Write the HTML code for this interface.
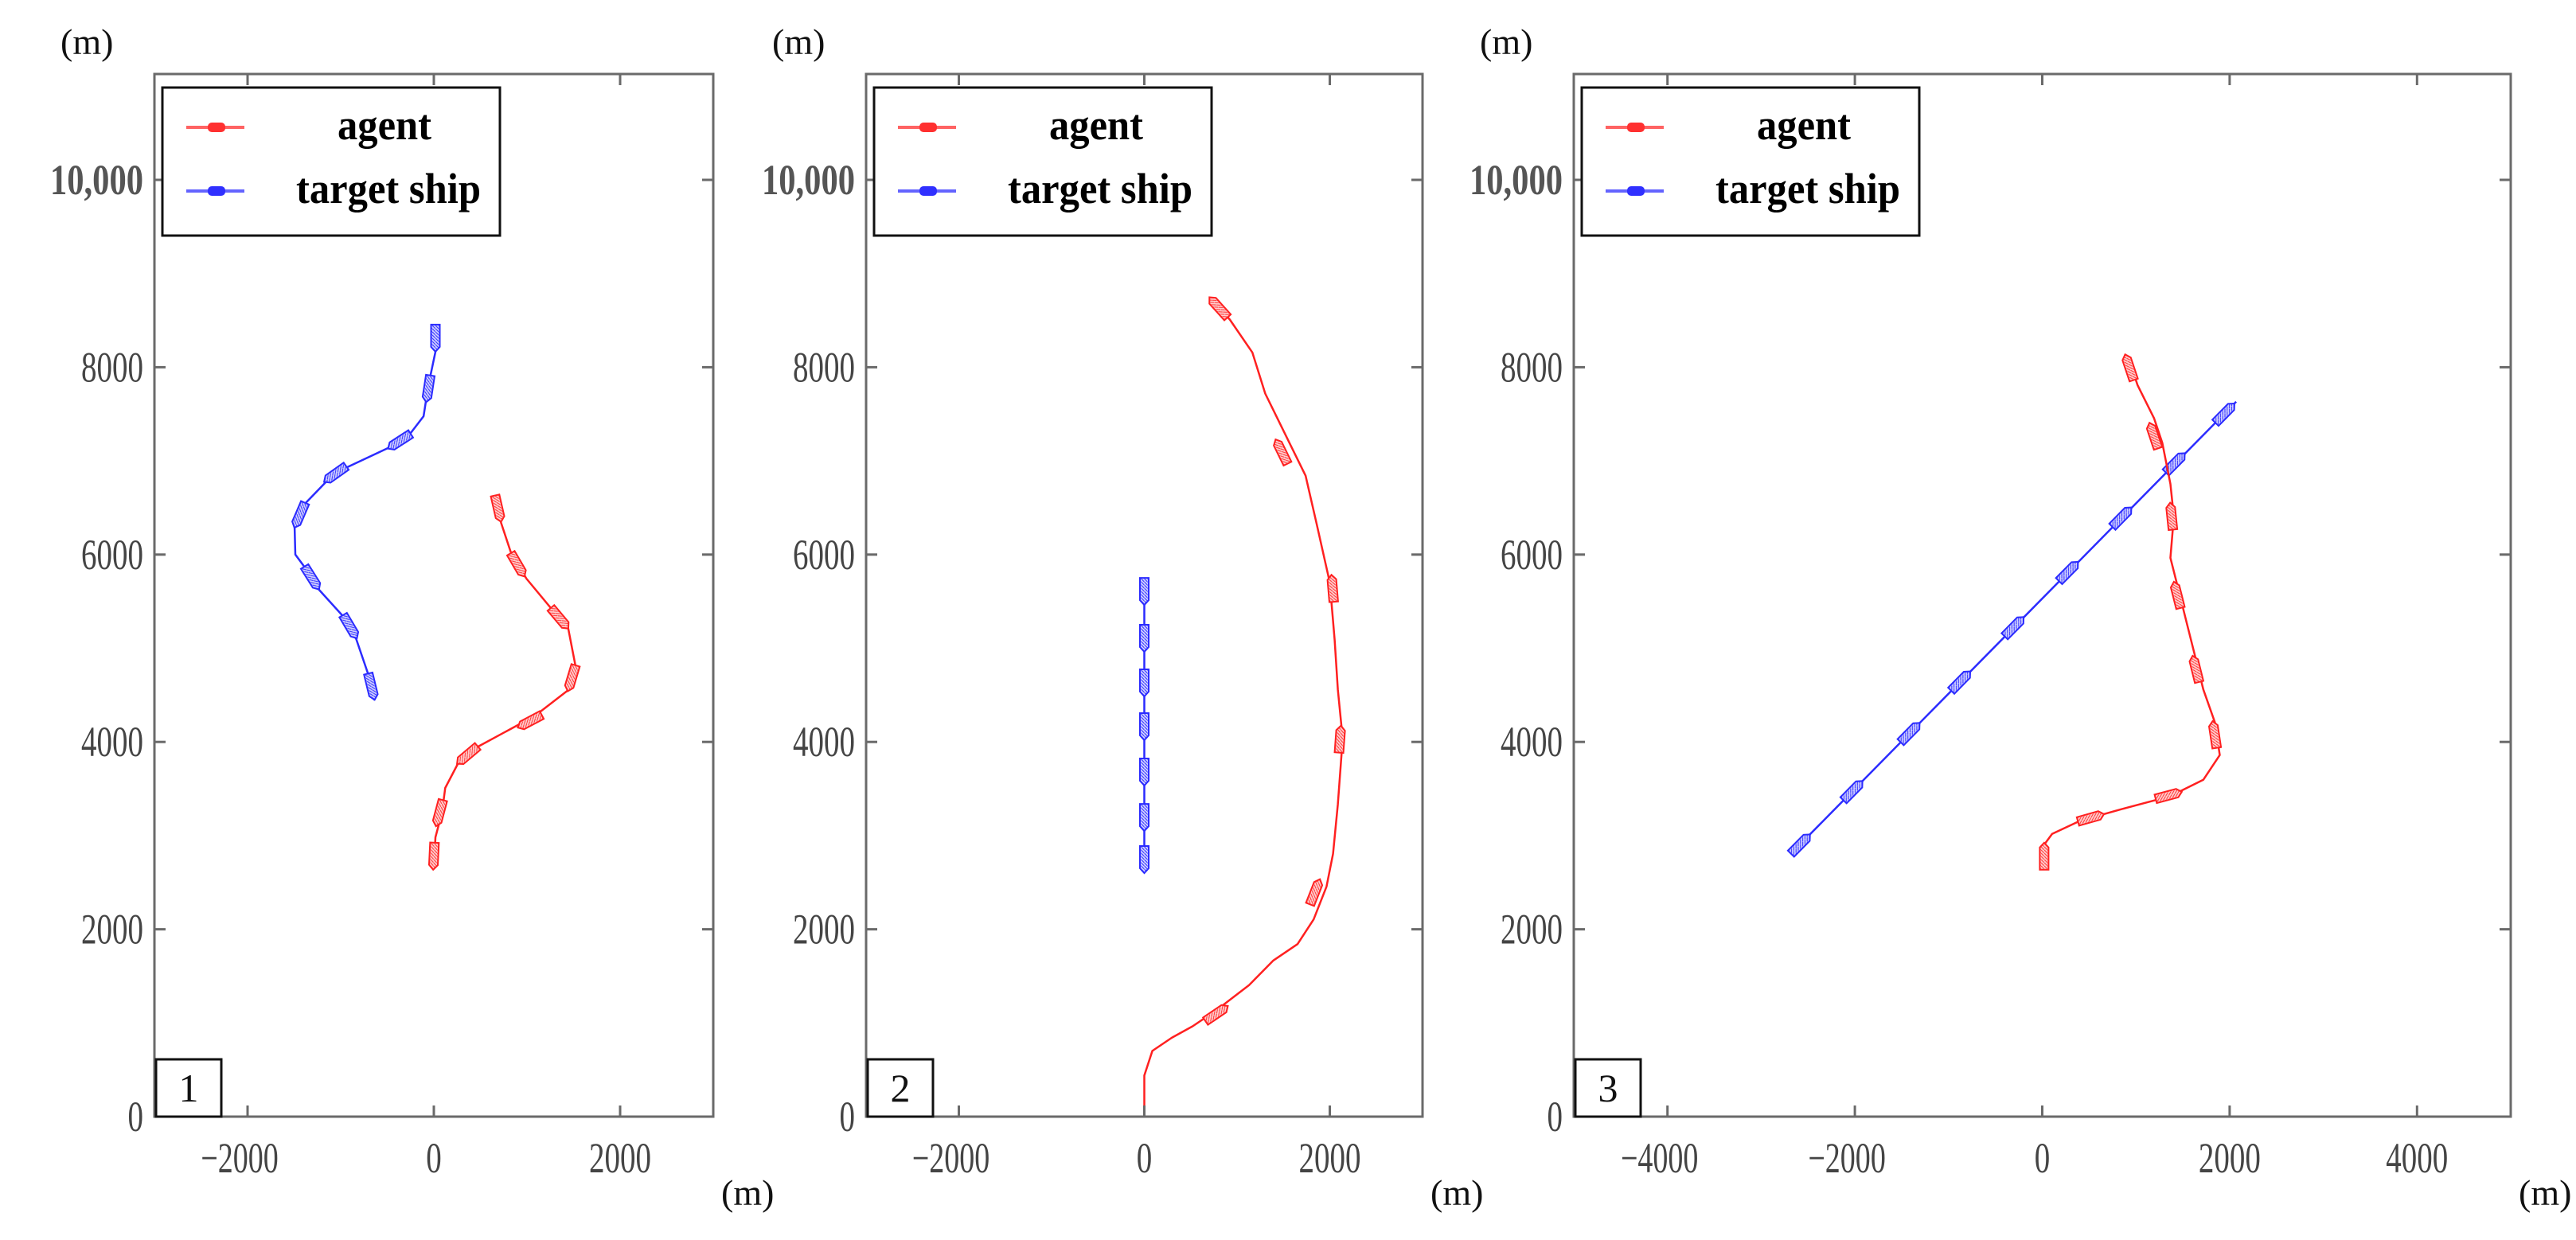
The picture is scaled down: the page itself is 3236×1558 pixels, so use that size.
<!DOCTYPE html>
<html><head><meta charset="utf-8"><style>
html,body{margin:0;padding:0;background:#fff;}
svg{display:block;}
text{font-family:"Liberation Serif",serif;}
</style></head><body>
<svg id="chart" width="3236" height="1558" viewBox="0 0 3236 1558" xmlns="http://www.w3.org/2000/svg">
<defs>
<pattern id="hatchR" patternUnits="userSpaceOnUse" width="4" height="4"><rect width="4" height="4" fill="#ffd0d0"/><path d="M0 4L4 0" stroke="#ff3030" stroke-width="1"/></pattern>
<pattern id="hatchB" patternUnits="userSpaceOnUse" width="4" height="4"><rect width="4" height="4" fill="#d0d0ff"/><path d="M0 4L4 0" stroke="#3030ff" stroke-width="1"/></pattern>
</defs>
</svg>
<script>
// ---- data (metres) ----
const yTicks = [0, 2000, 4000, 6000, 8000, 10000];
const yTickLabels = ["0", "2000", "4000", "6000", "8000", "10,000"];
const xTicks1 = [-2000, 0, 2000];
const xTickLabels1 = ["\u22122000", "0", "2000"];
const xTicks3 = [-4000, -2000, 0, 2000, 4000];
const xTickLabels3 = ["\u22124000", "\u22122000", "0", "2000", "4000"];
const panelLabels = ["1", "2", "3"];

const p1TargetX = [17, 17, -60, -110, -255, -493, -985, -1130, -1385, -1495, -1487, -1385, -1240, -985, -833, -705, -637];
const p1TargetY = [8462, 8165, 7800, 7477, 7290, 7137, 6907, 6805, 6542, 6287, 6000, 5862, 5633, 5353, 5098, 4724, 4444];
const p1AgentX = [654, 722, 824, 994, 1249, 1444, 1521, 1444, 1079, 957, 470, 261, 122, 87, 17, 0];
const p1AgentY = [6636, 6338, 6032, 5743, 5438, 5208, 4809, 4554, 4274, 4210, 3947, 3772, 3509, 3245, 2982, 2640];
const p1TargetShipX = [17, -60, -370, -1060, -1440, -1310, -900, -670];
const p1TargetShipY = [8310, 7770, 7210, 6860, 6420, 5750, 5230, 4590];
const p1AgentShipX = [690, 900, 1350, 1480, 1030, 360, 60, 0];
const p1AgentShipY = [6490, 5890, 5320, 4680, 4220, 3860, 3240, 2780];

const p2TargetX = [0, 0];
const p2TargetY = [5750, 2640];
const p2AgentX = [0, 0, 87, 296, 522, 783, 1130, 1391, 1652, 1826, 1965, 2035, 2087, 2139, 2087, 2052, 2000, 1861, 1739, 1565, 1304, 1165, 922, 730];
const p2AgentY = [0, 439, 702, 842, 965, 1140, 1404, 1667, 1842, 2105, 2456, 2807, 3333, 4035, 4561, 5088, 5702, 6316, 6842, 7193, 7719, 8158, 8509, 8719];
const p2TargetShipX = [0, 0, 0, 0, 0, 0, 0];
const p2TargetShipY = [5607, 5106, 4630, 4163, 3679, 3194, 2744];
const p2AgentShipX = [780, 1840, 2110, 2030, 1480, 800];
const p2AgentShipY = [1100, 2400, 4030, 5640, 7100, 8640];

const p3TargetX = [-2680, 2070];
const p3TargetY = [2810, 7632];
const p3AgentX = [18, 18, 105, 404, 842, 1368, 1719, 1895, 1842, 1719, 1632, 1544, 1456, 1368, 1404, 1368, 1281, 1193, 1018, 930];
const p3AgentY = [2640, 2900, 3018, 3158, 3281, 3421, 3596, 3860, 4211, 4561, 4912, 5263, 5614, 5965, 6404, 6754, 7193, 7456, 7807, 8070];
const p3TargetShipX = [-2580, -2020, -1410, -870, -300, 280, 850, 1420, 1950];
const p3TargetShipY = [2910, 3480, 4100, 4650, 5230, 5820, 6400, 6980, 7510];
const p3AgentShipX = [930, 1190, 1380, 1440, 1640, 1840, 1350, 520, 20];
const p3AgentShipY = [8000, 7270, 6410, 5570, 4780, 4080, 3430, 3190, 2780];

// ---- layout ----
const NS = "http://www.w3.org/2000/svg";
const svg = document.getElementById("chart");
function mk(tag, attrs, parent) {
  const e = document.createElementNS(NS, tag);
  for (const k in attrs) e.setAttribute(k, attrs[k]);
  (parent || svg).appendChild(e);
  return e;
}
const TOP = 93, BOT = 1403, YMAX = 11130;
const panels = [
  {left:194, right:896, xmin:-3000, xmax:3000, xt:xTicks1, xl:xTickLabels1,
   tx:p1TargetX, ty:p1TargetY, ax:p1AgentX, ay:p1AgentY, tsx:p1TargetShipX, tsy:p1TargetShipY, asx:p1AgentShipX, asy:p1AgentShipY},
  {left:1088, right:1787, xmin:-3000, xmax:3000, xt:xTicks1, xl:xTickLabels1,
   tx:p2TargetX, ty:p2TargetY, ax:p2AgentX, ay:p2AgentY, tsx:p2TargetShipX, tsy:p2TargetShipY, asx:p2AgentShipX, asy:p2AgentShipY},
  {left:1977, right:3154, xmin:-5000, xmax:5000, xt:xTicks3, xl:xTickLabels3,
   tx:p3TargetX, ty:p3TargetY, ax:p3AgentX, ay:p3AgentY, tsx:p3TargetShipX, tsy:p3TargetShipY, asx:p3AgentShipX, asy:p3AgentShipY}
];

function yS(v){ return BOT - (v/YMAX)*(BOT-TOP); }

function drawShip(g, px, py, ang, color, fill, name) {
  const L = 17, W = 5.5;
  const s = mk("path", {
    d: `M${-L} ${-W} L${L-6} ${-W} L${L} 0 L${L-6} ${W} L${-L} ${W} Z`,
    transform: `translate(${px.toFixed(1)},${py.toFixed(1)}) rotate(${ang.toFixed(1)})`,
    fill: fill, stroke: color, "stroke-width": 2
  }, g);
  
  
}

function nearestAngle(X, Y, xs, ys, sx, sy) {
  let best = 1e18, ang = -90;
  for (let i = 0; i < X.length - 1; i++) {
    const ax = xs(X[i]), ay = ys(Y[i]), bx = xs(X[i+1]), by = ys(Y[i+1]);
    const dx = bx-ax, dy = by-ay, l2 = dx*dx+dy*dy || 1;
    let t = ((sx-ax)*dx + (sy-ay)*dy)/l2; t = Math.max(0, Math.min(1, t));
    const qx = ax+t*dx, qy = ay+t*dy, d = (qx-sx)**2 + (qy-sy)**2;
    if (d < best) { best = d; ang = Math.atan2(dy, dx)*180/Math.PI; }
  }
  return ang;
}

panels.forEach((p, pi) => {
  const xS = v => p.left + (v - p.xmin)/(p.xmax - p.xmin)*(p.right - p.left);
  const g = mk("g", {});
  
  

  const drawSeries = (X, Y, SX, SY, color, fill, nm) => {
    const pts = X.map((x, i) => xS(x).toFixed(1) + "," + yS(Y[i]).toFixed(1)).join(" ");
    const pl = mk("polyline", {points: pts, fill: "none", stroke: color, "stroke-width": 2.5, "stroke-linejoin":"round"}, g);
    
    
    SX.forEach((sx, i) => {
      const px = xS(sx), py = yS(SY[i]);
      drawShip(g, px, py, nearestAngle(X, Y, xS, yS, px, py), color, fill, nm + '-ship-marker');
    });
  };
  drawSeries(p.tx, p.ty, p.tsx, p.tsy, "#2b2bff", "url(#hatchB)", "target-ship");
  drawSeries(p.ax, p.ay, p.asx, p.asy, "#ff2020", "url(#hatchR)", "agent");

  const fr = mk("rect", {x:p.left, y:TOP, width:p.right-p.left, height:BOT-TOP, fill:"none", stroke:"#6a6a6a", "stroke-width":3}, g);
  
  

  yTicks.forEach((v, i) => {
    const y = yS(v);
    mk("line", {x1:p.left, x2:p.left+14, y1:y, y2:y, stroke:"#6a6a6a", "stroke-width":3}, g);
    mk("line", {x1:p.right, x2:p.right-14, y1:y, y2:y, stroke:"#6a6a6a", "stroke-width":3}, g);
    const lab = yTickLabels[i];
    const t = mk("text", {x:p.left-14, y:y+18, "text-anchor":"end", "font-size":54, fill: lab.length > 4 ? "#555" : "#444",
      "font-weight": lab.length > 4 ? "bold" : "normal", textLength: lab.length*19.5, lengthAdjust:"spacingAndGlyphs"}, g);
    t.textContent = lab;
    
    
  });
  p.xt.forEach((v, i) => {
    const x = xS(v);
    mk("line", {x1:x, x2:x, y1:BOT, y2:BOT-14, stroke:"#6a6a6a", "stroke-width":3}, g);
    mk("line", {x1:x, x2:x, y1:TOP, y2:TOP+14, stroke:"#6a6a6a", "stroke-width":3}, g);
    const lab = p.xl[i];
    const t = mk("text", {x: lab[0] === "\u2212" ? x-10 : x, y:1473, "text-anchor":"middle", "font-size":54, fill:"#444",
      textLength: lab.length*19.5, lengthAdjust:"spacingAndGlyphs"}, g);
    t.textContent = lab;
    
    
  });
  const uy = mk("text", {x:p.left-118, y:68, "font-size":46, fill:"#111"}, g);
  uy.textContent = "(m)";
  
  
  const ux = mk("text", {x:p.right+10, y:1514, "font-size":46, fill:"#111"}, g);
  ux.textContent = "(m)";
  
  

  const pb = mk("rect", {x:p.left+2, y:1331, width:82, height:72, fill:"#fff", stroke:"#111", "stroke-width":3}, g);
  
  
  const pt = mk("text", {x:p.left+43, y:1384, "text-anchor":"middle", "font-size":50, fill:"#111"}, g);
  pt.textContent = panelLabels[pi];
  
  

  const lg = mk("g", {}, g);
  
  
  const lx = p.left + 10;
  mk("rect", {x:lx, y:110, width:424, height:186, fill:"#fff", stroke:"#111", "stroke-width":3}, lg);
  [["agent","#ff3030",160,lx+220,"legend-entry-agent"],["target ship","#3030ff",240,lx+168,"legend-entry-target-ship"]].forEach(e => {
    const eg = mk("g", {}, lg);
    
    
    mk("line", {x1:lx+30, x2:lx+103, y1:e[2], y2:e[2], stroke:e[1], "stroke-width":4, opacity:0.75}, eg);
    mk("rect", {x:lx+58, y:e[2]-5, width:20, height:10, rx:4, fill:e[1], stroke:e[1], "stroke-width":2}, eg);
    const t = mk("text", {x:e[3], y:e[2]+15, "font-size":54, "font-weight":"bold", fill:"#000",
      textLength: e[0] === "agent" ? 118 : 232, lengthAdjust:"spacingAndGlyphs"}, eg);
    t.textContent = e[0];
  });
});
</script>
</body></html>
